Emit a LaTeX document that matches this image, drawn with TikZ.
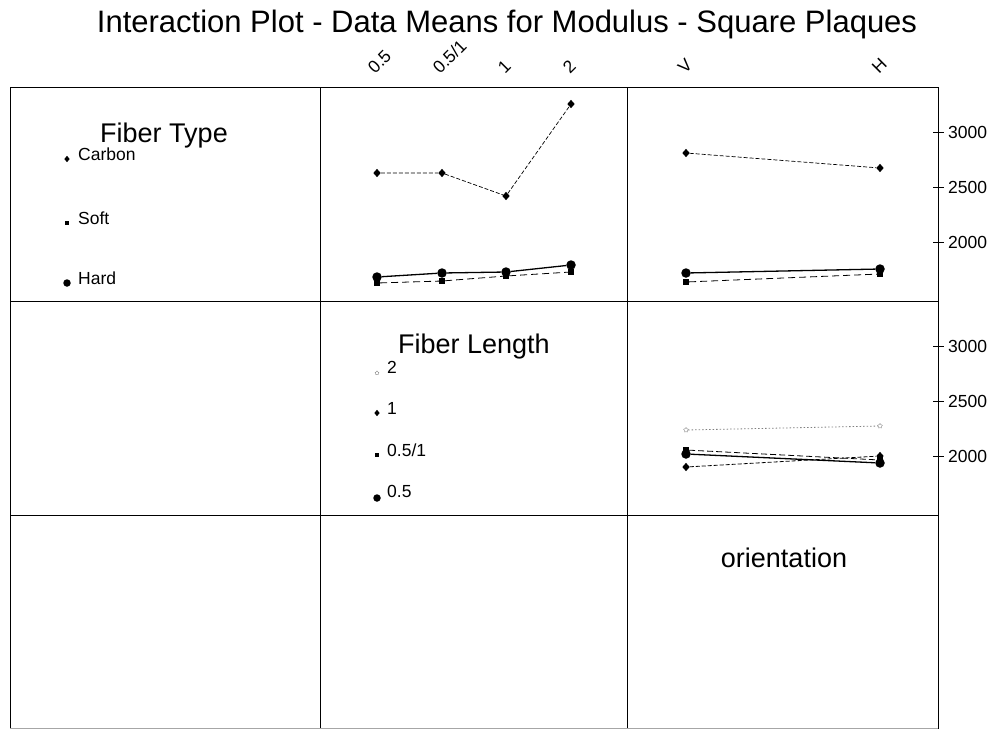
\documentclass[tikz,border=0pt]{standalone}
\usepackage{fontspec}
\setmainfont{Liberation Sans}
\usetikzlibrary{shapes.geometric}
\begin{document}
\begin{tikzpicture}[x=1pt,y=-1pt,
  frame/.style={line width=0.9pt, draw=black},
  small/.style={font=\fontsize{17.5}{20}\selectfont, inner sep=0pt},
  big/.style={font=\fontsize{27}{32}\selectfont, inner sep=0pt},
  ticklab/.style={small, anchor=west},
  axlab/.style={small, anchor=base west, rotate=45, inner sep=0pt},
  mkdiam/.style={diamond, fill=black, inner sep=0pt, minimum width=7.5pt, minimum height=8.5pt},
  mksq/.style={rectangle, fill=black, inner sep=0pt, minimum size=6pt},
  mkdot/.style={circle, fill=black, inner sep=0pt, minimum size=9.5pt},
  mkstar/.style={star, star points=5, draw=gray, line width=0.4pt, inner sep=0pt, minimum size=5pt},
  carbonline/.style={line width=0.7pt, dash pattern=on 4pt off 2pt},
  softline/.style={line width=0.8pt, dash pattern=on 7pt off 4pt},
  hardline/.style={line width=1.3pt},
  twoline/.style={line width=0.8pt, draw=gray, dash pattern=on 1.5pt off 2pt},
  oneline/.style={line width=0.8pt, dash pattern=on 4pt off 2pt},
  halfoneline/.style={line width=0.8pt, dash pattern=on 6pt off 3pt},
  halfline/.style={line width=1.3pt},
]
\useasboundingbox (0,0) rectangle (991,729);

% title
\node[font=\fontsize{31}{36}\selectfont, anchor=base, inner sep=0pt] (title) at (507,32)
  {Interaction Plot - Data Means for Modulus - Square Plaques};

% panel grid
\draw[frame] (10,87) -- (938,87);
\draw[frame] (10,301) -- (938,301);
\draw[frame] (10,515) -- (938,515);
\draw[frame] (10,87) -- (10,729);
\draw[frame] (320,87) -- (320,729);
\draw[frame] (627,87) -- (627,729);
\draw[frame] (938,87) -- (938,729);
\draw[line width=0.8pt, draw=black!35] (10,728) -- (938,728);

% top axis labels
\node[axlab] (lx1) at (375,75) {0.5};
\node[axlab] (lx2) at (440,75) {0.5/1};
\node[axlab] (lx3) at (505,75) {1};
\node[axlab] (lx4) at (570,75) {2};
\node[axlab] (lxv) at (685,75) {V};
\node[axlab] (lxh) at (879,75) {H};

% right axis ticks and labels
\foreach \yy/\val [count=\i] in {132/3000,187/2500,242/2000,346/3000,401/2500,456/2000}{
  \draw[line width=0.8pt] (933,\yy) -- (944,\yy);
  \node[ticklab] (tick\i) at (948,\yy) {\val};
}

% legend: fiber type
\node[big, anchor=base] (ftitle) at (164,142) {Fiber Type};
\node[mkdiam, minimum width=5.5pt, minimum height=6.5pt] (lgc) at (67,159) {};
\node[small, anchor=base west] (lgct) at (78,160) {Carbon};
\node[mksq, minimum size=4.5pt] (lgs) at (67,223) {};
\node[small, anchor=base west] (lgst) at (78,224) {Soft};
\node[mkdot, minimum size=7.5pt] (lgh) at (67,283) {};
\node[small, anchor=base west] (lght) at (78,284) {Hard};

% legend: fiber length
\node[big, anchor=base] (ltitle) at (474,353) {Fiber Length};
\node[mkstar, minimum size=4pt] (lg2) at (377,373) {};
\node[small, anchor=base west] (lg2t) at (387,373) {2};
\node[mkdiam, minimum width=5.5pt, minimum height=6.5pt] (lg1) at (377,413) {};
\node[small, anchor=base west] (lg1t) at (387,414) {1};
\node[mksq, minimum size=4.5pt] (lg51) at (377,455) {};
\node[small, anchor=base west] (lg51t) at (387,456) {0.5/1};
\node[mkdot, minimum size=7.5pt] (lg5) at (377,498) {};
\node[small, anchor=base west] (lg5t) at (387,497) {0.5};

% legend: orientation
\node[big, anchor=base] (otitle) at (784,567) {orientation};

% fiber type by fiber length
\node[mkdiam] (c1) at (377,173) {};
\node[mkdiam] (c2) at (442,173) {};
\node[mkdiam] (c3) at (506,196) {};
\node[mkdiam] (c4) at (571,104) {};
\draw[carbonline] (c1) -- (c2) -- (c3) -- (c4);

\node[mksq] (s1) at (377,283) {};
\node[mksq] (s2) at (442,281) {};
\node[mksq] (s3) at (506,276) {};
\node[mksq] (s4) at (571,272) {};
\draw[softline] (s1) -- (s2) -- (s3) -- (s4);

\node[mkdot] (h1) at (377,277) {};
\node[mkdot] (h2) at (442,273) {};
\node[mkdot] (h3) at (506,272) {};
\node[mkdot] (h4) at (571,265) {};
\draw[hardline] (h1) -- (h2) -- (h3) -- (h4);

% fiber type by orientation
\node[mkdiam] (cv) at (686,153) {};
\node[mkdiam] (ch) at (880,168) {};
\draw[carbonline] (cv) -- (ch);
\node[mksq] (sv) at (686,282) {};
\node[mksq] (sh) at (880,274) {};
\draw[softline] (sv) -- (sh);
\node[mkdot] (hv) at (686,273) {};
\node[mkdot] (hh) at (880,269) {};
\draw[hardline] (hv) -- (hh);

% fiber length by orientation
\node[mkstar] (tv) at (686,430) {};
\node[mkstar] (th) at (880,426) {};
\draw[twoline] (tv) -- (th);
\node[mkdiam] (ov) at (686,467) {};
\node[mkdiam] (oh) at (880,456) {};
\draw[oneline] (ov) -- (oh);
\node[mksq] (qv) at (686,450) {};
\node[mksq] (qh) at (880,460) {};
\draw[halfoneline] (qv) -- (qh);
\node[mkdot] (pv) at (686,454) {};
\node[mkdot] (ph) at (880,463) {};
\draw[halfline] (pv) -- (ph);
\end{tikzpicture}
\end{document}
